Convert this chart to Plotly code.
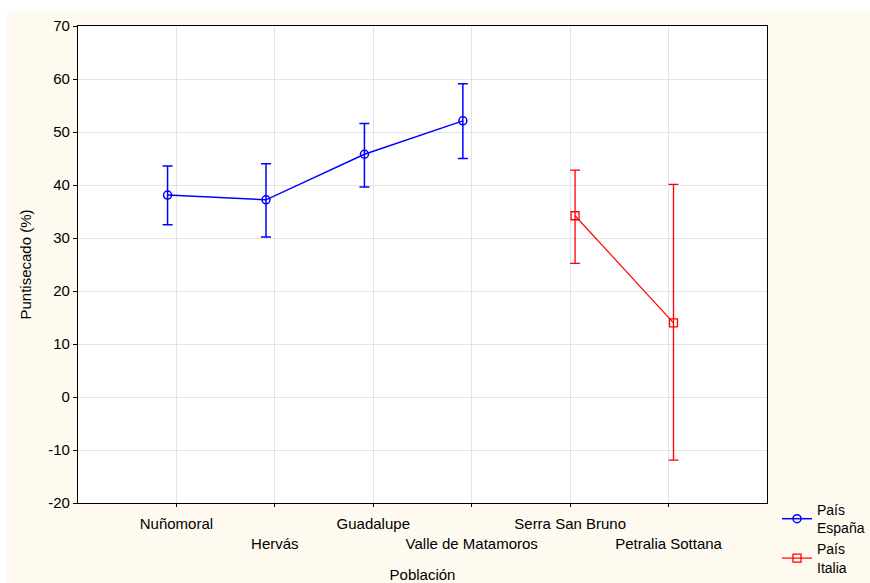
import plotly.graph_objects as go

# Populations on the x axis (Spain first, then Italy)
poblaciones = ["Nuñomoral", "Hervás", "Guadalupe", "Valle de Matamoros",
               "Serra San Bruno", "Petralia Sottana"]

# País España: means and confidence limits (%)
espana_idx = [0, 1, 2, 3]
espana_media = [38.1, 37.2, 45.8, 52.1]
espana_sup = [43.6, 44.0, 51.6, 59.1]
espana_inf = [32.5, 30.2, 39.6, 45.0]

# País Italia: means and confidence limits (%)
italia_idx = [4, 5]
italia_media = [34.2, 14.0]
italia_sup = [42.8, 40.1]
italia_inf = [25.2, -11.9]

y_ticks = list(range(-20, 80, 10))

CREAM = "#FEFAF0"
FONT = "Liberation Sans, Arial, sans-serif"


def shifted(idx, d):
    return [i + d for i in idx]


fig = go.Figure()

fig.add_trace(go.Scatter(
    x=shifted(espana_idx, -0.09), y=espana_media,
    mode="lines+markers", name="País<br>España",
    line=dict(color="#0000FF", width=1.5),
    marker=dict(symbol="circle-open", size=8, color="#0000FF", line=dict(width=1.5)),
    error_y=dict(type="data", symmetric=False,
                 array=[s - m for s, m in zip(espana_sup, espana_media)],
                 arrayminus=[m - i for m, i in zip(espana_media, espana_inf)],
                 color="#0000FF", thickness=1.5, width=5),
))

fig.add_trace(go.Scatter(
    x=shifted(italia_idx, 0.05), y=italia_media,
    mode="lines+markers", name="País<br>Italia",
    line=dict(color="#FF0000", width=1.2),
    marker=dict(symbol="square-open", size=8, color="#FF0000", line=dict(width=1.3)),
    error_y=dict(type="data", symmetric=False,
                 array=[s - m for s, m in zip(italia_sup, italia_media)],
                 arrayminus=[m - i for m, i in zip(italia_media, italia_inf)],
                 color="#FF0000", thickness=1.3, width=5),
))

# Staggered category labels: every second one drops to a second row
tick_text = [p if k % 2 == 0 else "<br>" + p for k, p in enumerate(poblaciones)]
# plain hyphen for negative values
y_text = [str(v) for v in y_ticks]

L, R, T, B = 78, 103, 26, 80
W, H = 870, 583
pw, ph = W - L - R, H - T - B

fig.update_layout(
    width=W, height=H,
    margin=dict(l=L, r=R, t=T, b=B, autoexpand=False),
    paper_bgcolor="white",
    plot_bgcolor="white",
    font=dict(family=FONT, size=15, color="black"),
    showlegend=True,
    legend=dict(x=(777 - L) / pw, xanchor="left",
                y=(H - B - 494) / ph, yanchor="top",
                bgcolor="rgba(0,0,0,0)", font=dict(size=14),
                tracegroupgap=0, itemwidth=30),
    shapes=[
        # cream page background, leaving a thin white margin top/left
        dict(type="rect", xref="paper", yref="paper", layer="below",
             x0=(7 - L) / pw, x1=(W - L) / pw,
             y0=-(B) / ph, y1=(H - B - 11) / ph,
             fillcolor=CREAM, line=dict(width=0)),
        # white plotting area
        dict(type="rect", xref="paper", yref="paper", layer="below",
             x0=0, x1=1, y0=0, y1=1,
             fillcolor="white", line=dict(width=0)),
    ],
)

fig.update_xaxes(
    range=[-1, 6], tickmode="array",
    tickvals=list(range(len(poblaciones))), ticktext=tick_text,
    tickangle=0, automargin=True, ticklabelstandoff=4,
    showgrid=True, gridcolor="#E3E3E3", gridwidth=1,
    showline=True, linecolor="black", linewidth=1.2, mirror=True,
    ticks="outside", ticklen=3, tickcolor="black",
    zeroline=False,
    title=dict(text="Población", standoff=20, font=dict(size=15)),
    tickfont=dict(size=15),
)

fig.update_yaxes(
    range=[-20, 70], tickmode="array", tickvals=y_ticks, ticktext=y_text,
    automargin=True,
    showgrid=True, gridcolor="#E3E3E3", gridwidth=1,
    showline=True, linecolor="black", linewidth=1.2, mirror=True,
    ticks="outside", ticklen=4, tickcolor="black",
    zeroline=False,
    title=dict(text="Puntisecado (%)", standoff=12, font=dict(size=15)),
    tickfont=dict(size=15),
)

fig.write_html("out.html")
